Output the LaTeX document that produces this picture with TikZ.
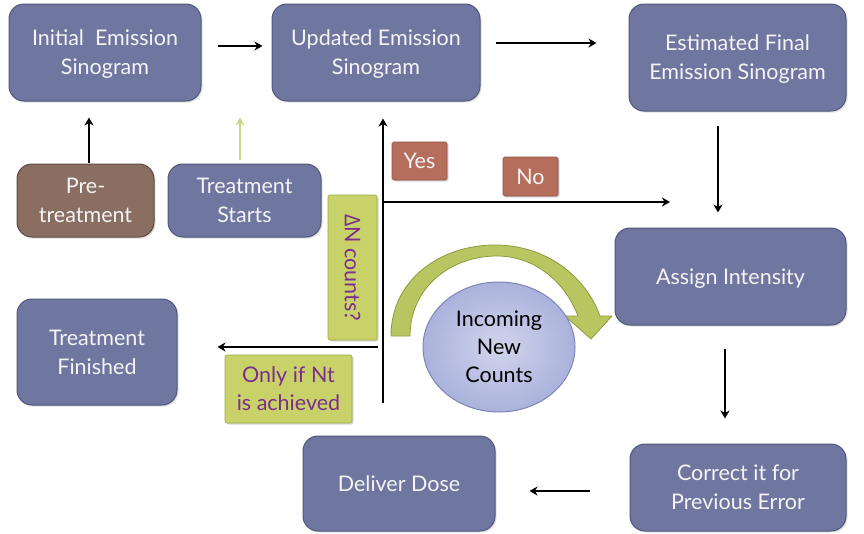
\documentclass[tikz,border=0pt]{standalone}
\usepackage{fontspec}
\setmainfont{Lato}
\newfontfamily\deltafont{Open Sans}
\usetikzlibrary{arrows.meta,shadows,shapes.geometric}
\definecolor{boxfill}{HTML}{6F77A1}
\definecolor{boxdraw}{HTML}{50577F}
\definecolor{brownfill}{HTML}{8B6E62}
\definecolor{browndraw}{HTML}{5F4B43}
\definecolor{redfill}{HTML}{B56E5C}
\definecolor{reddraw}{HTML}{8E5244}
\definecolor{yelfill}{HTML}{C8D269}
\definecolor{yeldraw}{HTML}{9EA84A}
\definecolor{purp}{HTML}{7B2E8C}
\definecolor{ellfill}{HTML}{AAB2DC}
\definecolor{elldraw}{HTML}{7E86B5}
\definecolor{bandfill}{HTML}{B8C662}
\definecolor{banddraw}{HTML}{8E9A3C}
\definecolor{lightgreen}{HTML}{C8D88A}
\definecolor{txtwhite}{HTML}{F4F4F4}
\tikzset{
  bluebox/.style={draw=boxdraw, line width=1pt, fill=boxfill, rounded corners=15pt,
    text=txtwhite, align=center, font=\fontsize{21.5}{29}\selectfont, inner sep=0pt,
    text depth=-4pt,
    drop shadow={opacity=0.25, shadow xshift=1.5pt, shadow yshift=-1.5pt}},
  brownbox/.style={bluebox, draw=browndraw, fill=brownfill},
  tagbox/.style={draw=reddraw, line width=0.6pt, fill=redfill, text=txtwhite,
    font=\fontsize{21.5}{29}\selectfont, inner sep=0pt, rounded corners=1.5pt,
    drop shadow={opacity=0.3, shadow xshift=1.5pt, shadow yshift=-1.5pt}},
  yelbox/.style={draw=yeldraw, line width=0.6pt, fill=yelfill, text=purp, align=center,
    font=\fontsize{21.5}{28}\selectfont, inner sep=0pt, rounded corners=2pt,
    text depth=-2pt,
    drop shadow={opacity=0.3, shadow xshift=1.5pt, shadow yshift=-1.5pt}},
  arr/.style={line width=2pt, -{Stealth[length=8pt,width=9pt,inset=2.5pt]}}
}
\begin{document}
\begin{tikzpicture}[x=1pt,y=-1pt]
\fill[white] (0,0) rectangle (864,533);
\useasboundingbox (0,0) rectangle (864,533);

% main boxes
\node[bluebox, minimum width=192pt, minimum height=97pt] (init) at (105,52.5) {Initial\ \ Emission\\Sinogram};
\node[bluebox, minimum width=208pt, minimum height=97pt] (upd) at (376,52.5) {Updated Emission\\Sinogram};
\node[bluebox, minimum width=217pt, minimum height=107pt] (est) at (737.5,57.5) {Estimated Final\\Emission Sinogram};
\node[brownbox, minimum width=137pt, minimum height=73pt] (pre) at (85.5,200.5) {Pre-\\treatment};
\node[bluebox, minimum width=153pt, minimum height=73pt] (ts) at (244.5,200.5) {Treatment\\Starts};
\node[bluebox, minimum width=231pt, minimum height=97pt] (assign) at (730.5,276.5) {Assign Intensity};
\node[bluebox, minimum width=160pt, minimum height=106pt] (fin) at (97,352) {Treatment\\Finished};
\node[bluebox, minimum width=192pt, minimum height=95pt] (deliver) at (399,483.5) {Deliver Dose};
\node[bluebox, minimum width=216pt, minimum height=87pt] (correct) at (738,487.5) {Correct it for\\Previous Error};

% curved green arrow
\fill[bandfill, draw=banddraw, line width=0.8pt, line join=round]
  (391,336) .. controls (391,280) and (440,245) .. (495,245)
  .. controls (545,245) and (585,275) .. (600,316)
  -- (612,316) -- (591,339) -- (565,316) -- (578,316)
  .. controls (565,282) and (535,256) .. (497,256)
  .. controls (450,256) and (410,288) .. (410,336) -- cycle;

% ellipse
\node[draw=elldraw, line width=1pt, inner color=ellfill!55, outer color=ellfill, ellipse,
  minimum width=152pt, minimum height=130pt, inner sep=0pt, align=center, text depth=-3pt,
  font=\fontsize{21.5}{28}\selectfont] (inc) at (499,347) {Incoming\\New\\Counts};

% decision labels
\node[yelbox, minimum width=49pt, minimum height=145pt] (dn) at (352.5,267.5) {};
\node[text=purp, rotate=-90, font=\fontsize{21.5}{28}\selectfont] (dnt) at (dn.center) {{\deltafont Δ}N counts?};
\node[yelbox, minimum width=127pt, minimum height=68pt] (only) at (288.5,389) {Only if Nt\\is achieved};
\node[tagbox, minimum width=55pt, minimum height=38pt] (yes) at (419.5,161) {Yes};
\node[tagbox, minimum width=55pt, minimum height=39pt] (no) at (530.5,176.5) {No};

% connectors
\coordinate (vbot) at (383,403);
\coordinate (jn) at (383,202);
\coordinate (jl) at (378,347);
\coordinate (noend) at (670,202);
\draw[arr] ([xshift=16pt,yshift=6.5pt]init.east) -- ([xshift=-9pt,yshift=6.5pt]upd.west);
\draw[arr] ([xshift=15pt,yshift=9.5pt]upd.east) -- ([xshift=-32pt,yshift=14.5pt]est.west);
\draw[arr] ([xshift=3.5pt,yshift=1pt]pre.north) -- ([xshift=3.5pt,yshift=46pt]pre.north);
\draw[arr, draw=lightgreen, fill=lightgreen] ([xshift=-4.5pt,yshift=4pt]ts.north) -- ([xshift=-4.5pt,yshift=46pt]ts.north);
\draw[arr] ([xshift=-19.5pt,yshift=-14pt]est.south) -- ([xshift=-19.5pt,yshift=-101pt]est.south);
\draw[arr] ([xshift=-5.5pt,yshift=-23pt]assign.south) -- ([xshift=-5.5pt,yshift=-93pt]assign.south);
\draw[arr] ([xshift=-40pt,yshift=-3.5pt]correct.west) -- ([xshift=34pt,yshift=-7.5pt]deliver.east);
\draw[arr, shorten >=17pt] (vbot) -- (vbot |- upd.south);
\draw[arr] (jn) -- (noend);
\draw[arr] (jl) -- ([xshift=40pt,yshift=5pt]fin.east);
\end{tikzpicture}
\end{document}
